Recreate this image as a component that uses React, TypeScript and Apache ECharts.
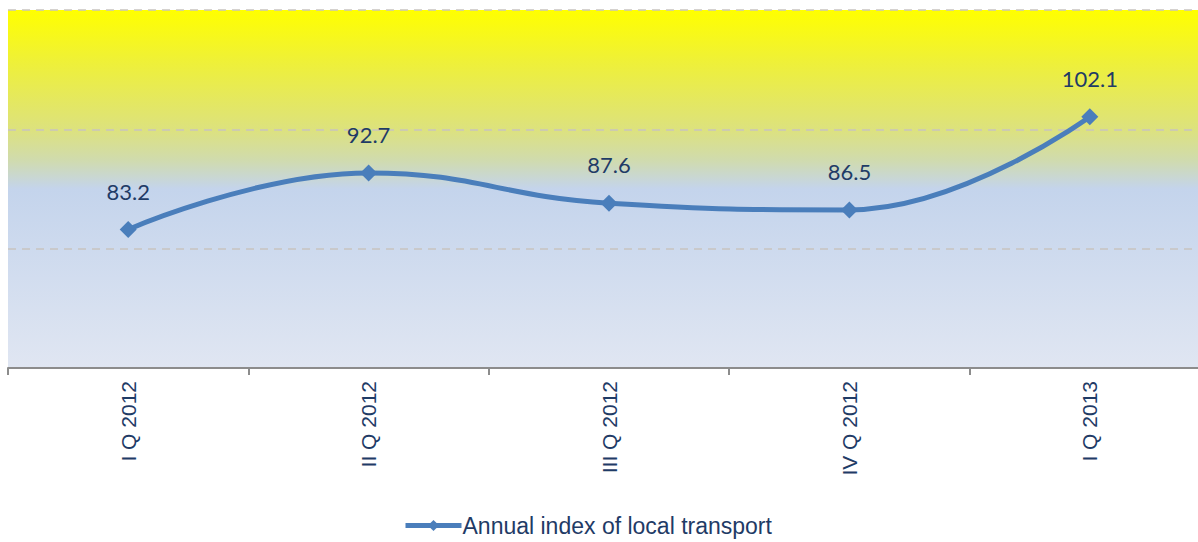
import React, { useEffect, useRef } from "react";
import * as echarts from "echarts";

const categories = ["I Q 2012", "II Q 2012", "III Q 2012", "IV Q 2012", "I Q 2013"];
const values = [83.2, 92.7, 87.6, 86.5, 102.1];
const seriesName = "Annual index of local transport";

export default function App() {
  const ref = useRef<HTMLDivElement>(null);
  useEffect(() => {
    const chart = echarts.init(ref.current!, null, { renderer: "svg" });
    chart.setOption({
      animation: false,
      grid: {
        left: 8,
        right: 0,
        top: 10,
        height: 358,
        show: true,
        borderWidth: 0,
        backgroundColor: {
          type: "linear",
          x: 0,
          y: 0,
          x2: 0,
          y2: 1,
          colorStops: [
            { offset: 0, color: "#FFFF00" },
            { offset: 0.15, color: "#EEF03A" },
            { offset: 0.33, color: "#DDE27C" },
            { offset: 0.42, color: "#D0DBAE" },
            { offset: 0.5, color: "#C4D4EC" },
            { offset: 1, color: "#E0E6F2" },
          ],
        },
      },
      legend: {
        bottom: 0,
        left: 398,
        itemWidth: 56,
        itemHeight: 14,
        itemGap: 0,
        lineStyle: { width: 5 },
        textStyle: { fontFamily: "Liberation Sans", fontSize: 23, color: "#1F3B66", padding: [0, 0, 0, -4] },
        data: [seriesName],
      },
      xAxis: {
        type: "category",
        data: categories,
        boundaryGap: true,
        axisLine: { lineStyle: { color: "#8C8C8C", width: 2 } },
        axisTick: { show: true, length: 7, lineStyle: { color: "#8C8C8C", width: 2 } },
        axisLabel: {
          rotate: 90,
          margin: 13,
          fontFamily: "Liberation Sans",
          fontSize: 21,
          color: "#1F3B66",
        },
      },
      yAxis: {
        type: "value",
        min: 60,
        max: 120,
        interval: 20,
        axisLabel: { show: false },
        axisLine: { show: false },
        axisTick: { show: false },
        splitLine: { show: true, lineStyle: { color: "#C8C4C0", type: [8, 6], width: 1.5 } },
      },
      series: [
        {
          name: seriesName,
          type: "line",
          data: values,
          smooth: 0.45,
          symbol: "diamond",
          symbolSize: 17,
          lineStyle: { color: "#4A7EBB", width: 5 },
          itemStyle: { color: "#4A7EBB" },
          label: {
            show: true,
            position: "top",
            distance: 19,
            fontFamily: "Lato",
            fontSize: 22,
            color: "#1F3B66",
          },
        },
      ],
    });
    return () => chart.dispose();
  }, []);
  return (
    <div
      style={{ position: "absolute", left: 0, top: 0, width: 1198, height: 542, overflow: "hidden" }}
    >
      <div ref={ref} style={{ width: 1210, height: 542 }} />
    </div>
  );
}
